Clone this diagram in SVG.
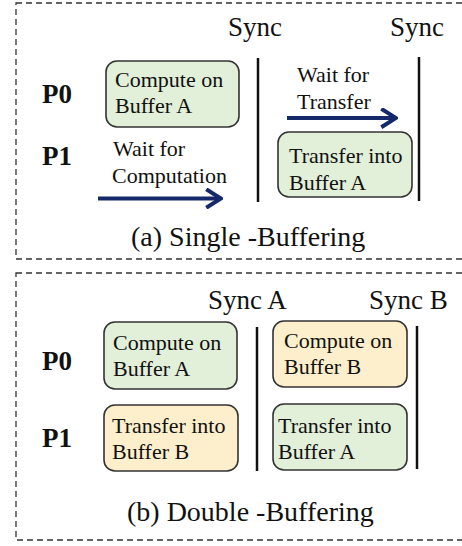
<svg xmlns="http://www.w3.org/2000/svg" width="462" height="546" viewBox="0 0 462 546">
  <style>
    .panel { fill: none; stroke: #333; stroke-width: 1.3; stroke-dasharray: 6 4; }
    .box { stroke: #333; stroke-width: 1.6; }
    .green { fill: #e2efd9; }
    .orange { fill: #fdefcb; }
    .bar { stroke: #111; stroke-width: 2.5; }
    .wait { stroke: #14286a; stroke-width: 4.2; fill: none; }
  </style>
  <defs>
    <marker id="chev" viewBox="0 0 10 10" refX="9" refY="5" markerWidth="5" markerHeight="5" markerUnits="strokeWidth" orient="auto">
      <path d="M2 0.6 L9 5 L2 9.4" fill="none" stroke="#14286a" stroke-width="1.9" stroke-linejoin="miter"/>
    </marker>
  </defs>

  <!-- (a) single buffering panel -->
  <g id="panel-single">
    <rect class="panel" x="16" y="3" width="460" height="256"/>
    <text x="228" y="36" font-family="Liberation Serif" font-size="27" fill="#111">Sync</text>
    <text x="390" y="36" font-family="Liberation Serif" font-size="27" fill="#111">Sync</text>
    <text x="42" y="103" font-family="Liberation Serif" font-size="27" font-weight="bold" fill="#111">P0</text>
    <text x="42" y="165" font-family="Liberation Serif" font-size="27" font-weight="bold" fill="#111">P1</text>
    <text x="131" y="246" font-family="Liberation Serif" font-size="28" fill="#111">(a) Single -Buffering</text>
  </g>

  <g id="a-compute">
    <rect class="box green" x="106" y="61" width="133" height="66" rx="11"/>
    <text x="115" y="87" font-family="Liberation Serif" font-size="22" fill="#111">Compute on</text>
    <text x="115" y="113" font-family="Liberation Serif" font-size="22" fill="#111">Buffer A</text>
  </g>
  <g id="a-transfer">
    <rect class="box green" x="278" y="132" width="134" height="65" rx="11"/>
    <text x="289" y="163" font-family="Liberation Serif" font-size="22" fill="#111">Transfer into</text>
    <text x="289" y="190" font-family="Liberation Serif" font-size="22" fill="#111">Buffer A</text>
  </g>
  <g id="a-wait-p1">
    <text x="113" y="156" font-family="Liberation Serif" font-size="22" fill="#111">Wait for</text>
    <text x="112" y="183" font-family="Liberation Serif" font-size="22" fill="#111">Computation</text>
  </g>
  <g id="a-wait-p0">
    <text x="297" y="82" font-family="Liberation Serif" font-size="22" fill="#111">Wait for</text>
    <text x="297" y="109" font-family="Liberation Serif" font-size="22" fill="#111">Transfer</text>
  </g>
  <g id="a-sync">
    <line class="bar" x1="258" y1="58" x2="258" y2="202"/>
    <line class="bar" x1="419" y1="57" x2="419" y2="201"/>
  </g>

  <!-- (b) double buffering panel -->
  <g id="panel-double">
    <rect class="panel" x="16" y="273" width="460" height="267"/>
    <text x="208" y="309" font-family="Liberation Serif" font-size="27" fill="#111">Sync A</text>
    <text x="369" y="309" font-family="Liberation Serif" font-size="27" fill="#111">Sync B</text>
    <text x="42" y="370" font-family="Liberation Serif" font-size="27" font-weight="bold" fill="#111">P0</text>
    <text x="42" y="447" font-family="Liberation Serif" font-size="27" font-weight="bold" fill="#111">P1</text>
    <text x="127" y="521" font-family="Liberation Serif" font-size="28" fill="#111">(b) Double -Buffering</text>
  </g>

  <g id="b-compute-a">
    <rect class="box green" x="104" y="322" width="133" height="67" rx="11"/>
    <text x="113" y="350" font-family="Liberation Serif" font-size="22" fill="#111">Compute on</text>
    <text x="113" y="376" font-family="Liberation Serif" font-size="22" fill="#111">Buffer A</text>
  </g>
  <g id="b-compute-b">
    <rect class="box orange" x="273" y="321" width="134" height="66" rx="11"/>
    <text x="284" y="348" font-family="Liberation Serif" font-size="22" fill="#111">Compute on</text>
    <text x="284" y="374" font-family="Liberation Serif" font-size="22" fill="#111">Buffer B</text>
  </g>
  <g id="b-transfer-b">
    <rect class="box orange" x="104" y="405" width="134" height="66" rx="11"/>
    <text x="112" y="433" font-family="Liberation Serif" font-size="22" fill="#111">Transfer into</text>
    <text x="112" y="459" font-family="Liberation Serif" font-size="22" fill="#111">Buffer B</text>
  </g>
  <g id="b-transfer-a">
    <rect class="box green" x="273" y="404" width="134" height="66" rx="11"/>
    <text x="278" y="433" font-family="Liberation Serif" font-size="22" fill="#111">Transfer into</text>
    <text x="278" y="459" font-family="Liberation Serif" font-size="22" fill="#111">Buffer A</text>
  </g>
  <g id="b-sync">
    <line class="bar" x1="257" y1="327" x2="257" y2="471"/>
    <line class="bar" x1="417" y1="326" x2="417" y2="469"/>
  </g>

  <!-- waiting arrows -->
  <g id="connectors">
    <line class="wait" x1="98" y1="198.5" x2="221" y2="198.5" marker-end="url(#chev)"/>
    <line class="wait" x1="287" y1="118" x2="396" y2="118" marker-end="url(#chev)"/>
  </g>
</svg>
